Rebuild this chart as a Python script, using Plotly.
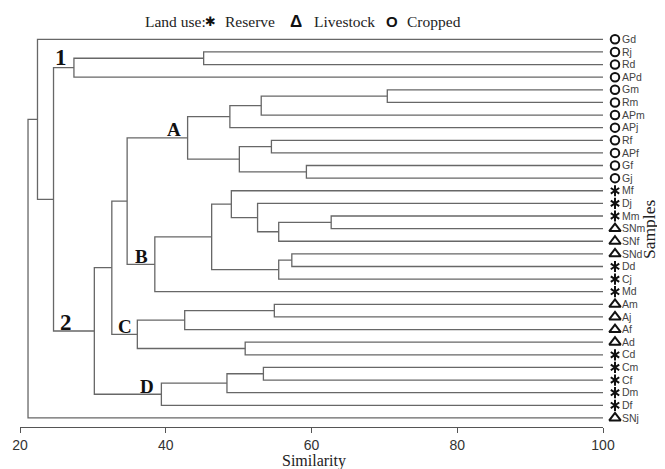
import plotly.graph_objects as go

# ---------------- data ----------------
leaves = ["Gd", "Rj", "Rd", "APd", "Gm", "Rm", "APm", "APj", "Rf", "APf", "Gf", "Gj",
          "Mf", "Dj", "Mm", "SNm", "SNf", "SNd", "Dd", "Cj", "Md",
          "Am", "Aj", "Af", "Ad", "Cd", "Cm", "Cf", "Dm", "Df", "SNj"]
land_use = (["Cropped"] * 12 +
            ["Reserve", "Reserve", "Reserve", "Livestock", "Livestock", "Livestock",
             "Reserve", "Reserve", "Reserve",
             "Livestock", "Livestock", "Livestock", "Livestock",
             "Reserve", "Reserve", "Reserve", "Reserve", "Reserve", "Livestock"])

merge_ids = ["n1", "n2", "n3", "n4", "n5", "n6", "n7", "n8", "n9", "n10", "n11", "n12",
             "n13", "n14", "n15", "n16", "n17", "n18", "n19", "n20", "n21", "n22", "n23",
             "n24", "n25", "n26", "n27", "n28", "n29", "n30"]
merge_left = ["Gm", "n1", "n2", "Rf", "Gf", "n4", "n3", "Mm", "n8", "Dj", "Mf", "SNd",
              "n12", "n11", "n14", "n7", "Am", "n17", "Ad", "n18", "n16", "Cm", "n22",
              "n23", "n21", "Rj", "n26", "n27", "Gd", "n29"]
merge_right = ["Rm", "APm", "APj", "APf", "Gj", "n5", "n6", "SNm", "SNf", "n9", "n10", "Dd",
               "Cj", "n13", "Md", "n15", "Aj", "Af", "Cd", "n19", "n20", "Cf", "Dm",
               "Df", "n24", "Rd", "APd", "n25", "n28", "SNj"]
merge_sim = [70.4, 53.1, 48.8, 54.5, 59.3, 50.1, 43.0, 62.7, 55.5, 52.6, 49.0, 57.3,
             55.5, 46.3, 38.5, 34.7, 54.9, 42.6, 50.9, 36.1, 32.6, 53.4, 48.4,
             39.4, 30.2, 45.2, 27.4, 24.6, 22.4, 21.1]

cluster_names = ["1", "2", "A", "B", "C", "D"]
x_ticks = [20, 40, 60, 80, 100]

# ---------------- geometry via tree ----------------
pos = {name: (100.0, float(i)) for i, name in enumerate(leaves)}
lx, ly = [], []
for nid, a, b, s in zip(merge_ids, merge_left, merge_right, merge_sim):
    xa, ya = pos[a]
    xb, yb = pos[b]
    lx += [xa, s, s, xb, None]
    ly += [ya, ya, yb, yb, None]
    pos[nid] = (s, (ya + yb) / 2)

# ---------------- frame (page body has an 8px margin) ----------------
OFF = 8
W, H = 665 - OFF, 469 - OFF
L = 20 - OFF               # x=20 at page px 20
T = 32 - OFF
B = H - (427 - OFF)        # axis line at page px 427
R = W - (630 - OFF)        # plot area extended to page px 630 (for symbols)
pw, ph = W - L - R, H - T - B
PX_PER_UNIT = (603 - 20) / 80.0
main_end = (603 - 20) / pw
x2_max = 20 + pw / PX_PER_UNIT

def px(xp):   # page pixel -> paper
    return (xp - 20) / pw
def py(yp):
    return (427 - yp) / ph

LINE = "#676767"
fig = go.Figure()
fig.add_trace(go.Scatter(x=lx, y=ly, mode="lines",
                         line=dict(color=LINE, width=1.3), hoverinfo="skip",
                         showlegend=False))

SYM_X = 20 + (615 - 20) / PX_PER_UNIT
def idx_of(kind):
    return [i for i, u in enumerate(land_use) if u == kind]

ci = idx_of("Cropped")
fig.add_trace(go.Scatter(x=[SYM_X] * len(ci), y=ci, mode="markers", xaxis="x2", yaxis="y",
                         marker=dict(symbol="circle-open", size=8.5, color="#111",
                                     line=dict(width=2, color="#111")),
                         showlegend=False, hoverinfo="skip"))
li = idx_of("Livestock")
fig.add_trace(go.Scatter(x=[SYM_X] * len(li), y=li, mode="markers", xaxis="x2", yaxis="y",
                         marker=dict(symbol="triangle-up-open", size=10, color="#111",
                                     line=dict(width=2, color="#111")),
                         showlegend=False, hoverinfo="skip"))
ri = idx_of("Reserve")
for sym in ["y-up-open", "y-down-open"]:
    fig.add_trace(go.Scatter(x=[SYM_X] * len(ri), y=ri, mode="markers", xaxis="x2", yaxis="y",
                             marker=dict(symbol=sym, size=7, color="#111",
                                         line=dict(width=2, color="#111")),
                             showlegend=False, hoverinfo="skip"))

SERIF = "Liberation Serif"
SANS = "Liberation Sans"

annotations = []
cl_pos = [(25.63, 1.45, 23), (26.25, 22.44, 23), (41.07, 7.11, 19),
          (36.68, 17.17, 19), (34.41, 22.72, 19), (37.43, 27.51, 19)]
for name, (cx, cy, fs) in zip(cluster_names, cl_pos):
    annotations.append(dict(x=cx, y=cy, xref="x", yref="y", text="<b>%s</b>" % name,
                            showarrow=False, xanchor="center", yanchor="middle",
                            font=dict(family=SERIF, size=fs, color="#111")))

leg_y = py(21)
leg_items = [
    ("Land use:", 142.7, "left", SERIF, 15.5, "#222"),
    ("<b>✱</b>", 210, "center", "DejaVu Sans", 13, "#111"),
    ("Reserve", 223, "left", SERIF, 15.5, "#222"),
    ("<b>Δ</b>", 295.5, "center", SANS, 17, "#111"),
    ("Livestock", 312, "left", SERIF, 15.5, "#222"),
    ("<b>O</b>", 392, "center", SANS, 15, "#111"),
    ("Cropped", 405, "left", SERIF, 15.5, "#222"),
]
for txt, xpx, anc, fam, fs, col in leg_items:
    annotations.append(dict(x=px(xpx), y=leg_y, xref="paper", yref="paper", text=txt,
                            showarrow=False, xanchor=anc, yanchor="middle",
                            font=dict(family=fam, size=fs, color=col)))

annotations.append(dict(x=px(314), y=py(461), xref="paper", yref="paper",
                        text="Similarity", showarrow=False, xanchor="center",
                        yanchor="middle", font=dict(family=SERIF, size=16, color="#222")))
annotations.append(dict(x=px(649), y=py(230), xref="paper", yref="paper",
                        text="Samples", textangle=-90, showarrow=False,
                        xanchor="center", yanchor="middle",
                        font=dict(family=SERIF, size=17.5, color="#222")))

fig.update_layout(
    width=W, height=H,
    margin=dict(l=L, r=R, t=T, b=B, pad=0, autoexpand=False),
    paper_bgcolor="white", plot_bgcolor="rgba(0,0,0,0)",
    showlegend=False,
    annotations=annotations,
    xaxis=dict(domain=[0, main_end], range=[20, 100], tickvals=x_ticks,
               ticktext=[str(v) for v in x_ticks],
               showline=True, linecolor="#555", linewidth=1.2,
               ticks="outside", ticklen=5, tickcolor="#555", tickwidth=1.2,
               showgrid=False, zeroline=False, automargin=False,
               tickfont=dict(family=SANS, size=14, color="#333")),
    xaxis2=dict(domain=[0, 1], range=[20, x2_max], anchor="y", visible=False,
                showgrid=False, zeroline=False),
    yaxis=dict(range=[30.72, -0.58], side="right", anchor="x",
               tickvals=list(range(len(leaves))), ticktext=leaves,
               showline=False, ticks="", showgrid=False, zeroline=False,
               ticklabelstandoff=18, automargin=False,
               tickfont=dict(family=SANS, size=10.5, color="#444")),
)

fig.write_html("out.html")
